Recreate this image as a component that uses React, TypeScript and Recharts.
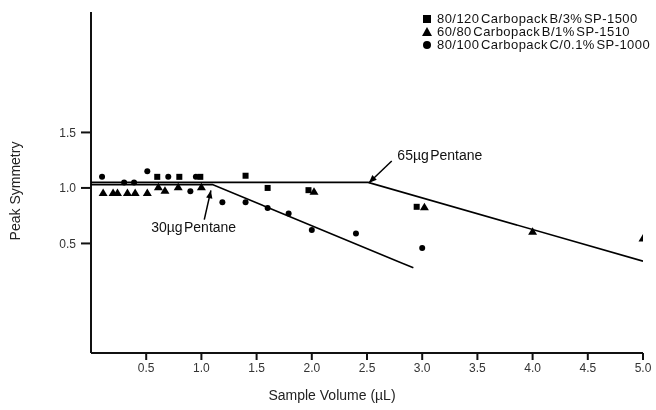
import React from 'react';
import { ScatterChart, Scatter, XAxis, YAxis, Legend } from 'recharts';

// ---- tick labels ----
const xTicks = [0.5, 1.0, 1.5, 2.0, 2.5, 3.0, 3.5, 4.0, 4.5, 5.0];
const yTicks = [0.5, 1.0, 1.5];

// ---- series names ----
const seriesNames = [
  '80/120 Carbopack B/3% SP-1500',
  '60/80 Carbopack B/1% SP-1510',
  '80/100 Carbopack C/0.1% SP-1000',
];

// ---- 80/120 Carbopack B/3% SP-1500 (squares) ----
const squareX = [0.60, 0.80, 0.99, 1.40, 1.60, 1.97, 2.95];
const squareY = [1.10, 1.10, 1.10, 1.11, 1.00, 0.98, 0.83];

// ---- 60/80 Carbopack B/1% SP-1510 (triangles) ----
const triX = [0.11, 0.20, 0.24, 0.33, 0.40, 0.51, 0.61, 0.67, 0.79, 1.00, 2.02, 3.02, 4.00, 5.00];
const triY = [0.96, 0.96, 0.96, 0.96, 0.96, 0.96, 1.01, 0.98, 1.01, 1.01, 0.97, 0.83, 0.61, 0.55];

// ---- 80/100 Carbopack C/0.1% SP-1000 (circles) ----
const circX = [0.10, 0.30, 0.39, 0.51, 0.70, 0.90, 0.95, 1.19, 1.40, 1.60, 1.79, 2.00, 2.40, 3.00];
const circY = [1.10, 1.05, 1.05, 1.15, 1.10, 0.97, 1.10, 0.87, 0.87, 0.82, 0.77, 0.62, 0.59, 0.46];

// ---- breakthrough lines ----
const line30X = [0, 1.1, 2.92];
const line30Y = [1.03, 1.03, 0.28];
const line65X = [0, 2.51, 5.0];
const line65Y = [1.05, 1.05, 0.34];

// ---- annotations ----
const annoText = ['30µg Pentane', '65µg Pentane'];
const annoX = [0.93, 3.16];
const annoY = [0.65, 1.30];
const arrow30X = [1.026, 1.086];
const arrow30Y = [0.715, 0.978];
const arrow65X = [2.724, 2.516];
const arrow65Y = [1.243, 1.045];

const zip = (xs: number[], ys: number[]) => xs.map((x, i) => ({ x, y: ys[i] }));

const squares = zip(squareX, squareY);
const triangles = zip(triX, triY);
const circles = zip(circX, circY);
const line30 = zip(line30X, line30Y);
const line65 = zip(line65X, line65Y);
const arrow30 = zip(arrow30X, arrow30Y).map((p, i) => ({ ...p, tip: i === 1, angle: -78 }));
const arrow65 = zip(arrow65X, arrow65Y).map((p, i) => ({ ...p, tip: i === 1, angle: 136 }));
const annotations = annoText.map((t, i) => ({ x: annoX[i], y: annoY[i], text: t }));

const FONT = "'Liberation Sans', Arial, Helvetica, sans-serif";

const SquareShape = (p: any) => <rect x={p.cx - 3} y={p.cy - 3} width={6} height={6} fill="#000" />;
const TriShape = (p: any) => (
  <polygon points={`${p.cx},${p.cy - 4} ${p.cx + 4.5},${p.cy + 3.5} ${p.cx - 4.5},${p.cy + 3.5}`} fill="#000" />
);
const CircShape = (p: any) => <circle cx={p.cx} cy={p.cy} r={3} fill="#000" />;
const NoShape = () => <g />;

const ArrowShape = (p: any) => {
  if (!p.payload || !p.payload.tip) return <g />;
  const a = p.payload.angle;
  return (
    <polygon
      points="0,0 -8,-3.2 -8,3.2"
      fill="#000"
      transform={`translate(${p.cx},${p.cy}) rotate(${a})`}
    />
  );
};

const TextShape = (p: any) => (
  <text
    x={p.cx}
    y={p.cy}
    textAnchor="middle"
    dominantBaseline="central"
    fontSize={14}
    fontFamily={FONT}
    fill="#111"
    wordSpacing={-2.5}
  >
    {p.payload.text}
  </text>
);

const YLabel = () => (
  <text
    x={7}
    y={183}
    transform="rotate(-90, 7, 183)"
    textAnchor="middle"
    dominantBaseline="central"
    fontSize={14}
    fontFamily={FONT}
    fill="#222"
  >
    Peak Symmetry
  </text>
);

const legendMarkers = [
  <rect key="s" x={6} y={2} width={8} height={8} fill="#000" />,
  <polygon key="t" points="10,1 15,10 5,10" fill="#000" />,
  <circle key="c" cx={10} cy={6} r={4} fill="#000" />,
];

const LegendBox = () => (
  <div style={{ fontFamily: FONT, fontSize: 13, color: '#111' }}>
    {seriesNames.map((n, i) => (
      <div key={n} style={{ display: 'flex', alignItems: 'center', height: 13, whiteSpace: 'nowrap' }}>
        <svg width={20} height={12}>{legendMarkers[i]}</svg>
        <span style={{ lineHeight: '13px', wordSpacing: -2.5, letterSpacing: 0.45 }}>{n}</span>
      </div>
    ))}
  </div>
);

export default function App() {
  return (
    <div style={{ position: 'fixed', top: 8, left: 8, width: 648, height: 400, fontFamily: FONT }}>
      <ScatterChart width={648} height={400} margin={{ top: 4, right: 13, bottom: 25, left: 23 }}>
        <XAxis
          type="number"
          dataKey="x"
          domain={[0, 5]}
          ticks={xTicks}
          interval={0}
          allowDataOverflow
          height={30}
          tickSize={7}
          tickMargin={3}
          tickFormatter={(v: number) => v.toFixed(1)}
          axisLine={{ stroke: '#111', strokeWidth: 2 }}
          tickLine={{ stroke: '#111', strokeWidth: 2 }}
          tick={{ fill: '#333', fontSize: 12, fontFamily: FONT }}
          label={{ value: 'Sample Volume (µL)', position: 'bottom', offset: 7, dx: -35, fill: '#222', fontSize: 14, fontFamily: FONT }}
        />
        <YAxis
          type="number"
          dataKey="y"
          domain={[-0.487, 2.585]}
          ticks={yTicks}
          interval={0}
          allowDataOverflow
          width={60}
          tickSize={10}
          tickMargin={5}
          tickFormatter={(v: number) => v.toFixed(1)}
          axisLine={{ stroke: '#111', strokeWidth: 2 }}
          tickLine={{ stroke: '#111', strokeWidth: 2 }}
          tick={{ fill: '#333', fontSize: 12, fontFamily: FONT }}
          label={<YLabel />}
        />
        <Legend
          layout="horizontal"
          verticalAlign="middle"
          align="center"
          wrapperStyle={{ top: 4, left: 409, width: 239 }}
          content={() => <LegendBox />}
        />
        <Scatter name="line30" data={line30} line={{ stroke: '#000', strokeWidth: 1.6 }} shape={NoShape} legendType="none" isAnimationActive={false} />
        <Scatter name="line65" data={line65} line={{ stroke: '#000', strokeWidth: 1.6 }} shape={NoShape} legendType="none" isAnimationActive={false} />
        <Scatter name={seriesNames[0]} data={squares} shape={SquareShape} isAnimationActive={false} />
        <Scatter name={seriesNames[1]} data={triangles} shape={TriShape} isAnimationActive={false} />
        <Scatter name={seriesNames[2]} data={circles} shape={CircShape} isAnimationActive={false} />
        <Scatter name="arrow30" data={arrow30} line={{ stroke: '#000', strokeWidth: 1.5 }} shape={ArrowShape} legendType="none" isAnimationActive={false} />
        <Scatter name="arrow65" data={arrow65} line={{ stroke: '#000', strokeWidth: 1.5 }} shape={ArrowShape} legendType="none" isAnimationActive={false} />
        <Scatter name="annotations" data={annotations} shape={TextShape} legendType="none" isAnimationActive={false} />
      </ScatterChart>
    </div>
  );
}
